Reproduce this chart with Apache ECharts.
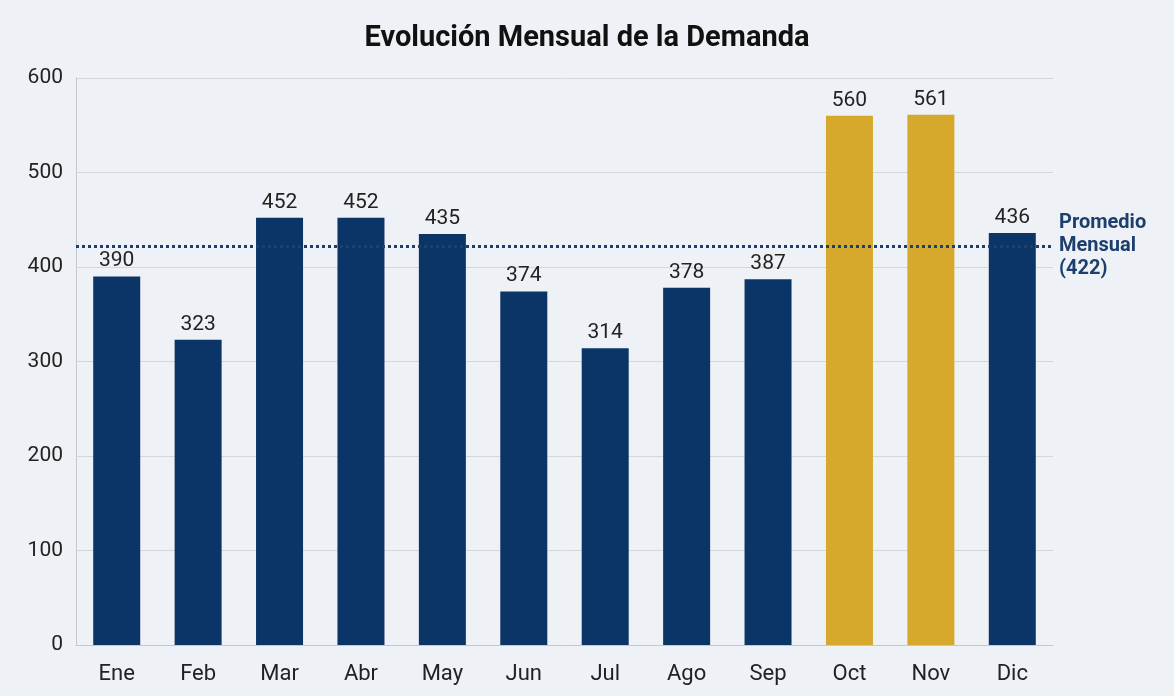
<!DOCTYPE html>
<html>
<head>
<meta charset="utf-8">
<script src="https://cdn.jsdelivr.net/npm/echarts@6/dist/echarts.min.js"></script>
<style>
  html, body { margin: 0; padding: 0; background: #eef1f5; }
  #chart { width: 1174px; height: 696px; }
</style>
</head>
<body>
<div id="chart"></div>
<script>
'use strict';
var months = ['Ene', 'Feb', 'Mar', 'Abr', 'May', 'Jun', 'Jul', 'Ago', 'Sep', 'Oct', 'Nov', 'Dic'];
var demand = [390, 323, 452, 452, 435, 374, 314, 378, 387, 560, 561, 436];
var peakMonths = ['Oct', 'Nov'];
var average = 422;

var navy = '#0b3467';
var gold = '#d6a92c';

var myChart = echarts.init(document.getElementById('chart'));

var option = {
    backgroundColor: '#eef1f5',
    textStyle: { fontFamily: 'Roboto' },
    title: {
        text: 'Evolución Mensual de la Demanda',
        left: 'center',
        top: 19,
        textStyle: { fontSize: 29, fontWeight: 'bold', color: '#111' }
    },
    grid: { left: 76, right: 121, top: 78, bottom: 51, containLabel: false },
    xAxis: {
        type: 'category',
        data: months,
        axisLine: { lineStyle: { color: '#c4c8cd' } },
        axisTick: { show: false },
        axisLabel: { fontSize: 22, color: '#222', margin: 18 }
    },
    yAxis: {
        type: 'value',
        min: 0,
        max: 600,
        interval: 100,
        axisLine: { show: true, lineStyle: { color: '#c4c8cd' } },
        splitLine: { lineStyle: { color: '#d3d6da' } },
        axisLabel: { fontSize: 21, color: '#222', margin: 13 }
    },
    series: [{
        type: 'bar',
        barWidth: 47,
        data: demand.map(function (v, i) {
            return {
                value: v,
                itemStyle: { color: peakMonths.indexOf(months[i]) >= 0 ? gold : navy }
            };
        }),
        label: { show: true, position: 'top', fontSize: 21, color: '#222', distance: 5 },
        markLine: {
            symbol: 'none',
            silent: true,
            lineStyle: { type: 'dotted', width: 3, color: '#1c3f6e' },
            label: {
                position: 'end',
                formatter: 'Promedio\nMensual\n(' + average + ')',
                fontSize: 20,
                fontWeight: 'bold',
                color: '#1c3f6e',
                lineHeight: 23,
                align: 'left',
                distance: 6
            },
            data: [{ yAxis: average }]
        }
    }]
};

myChart.setOption(option);
window.onresize = function () {
    myChart.resize();
};
</script>
</body>
</html>
